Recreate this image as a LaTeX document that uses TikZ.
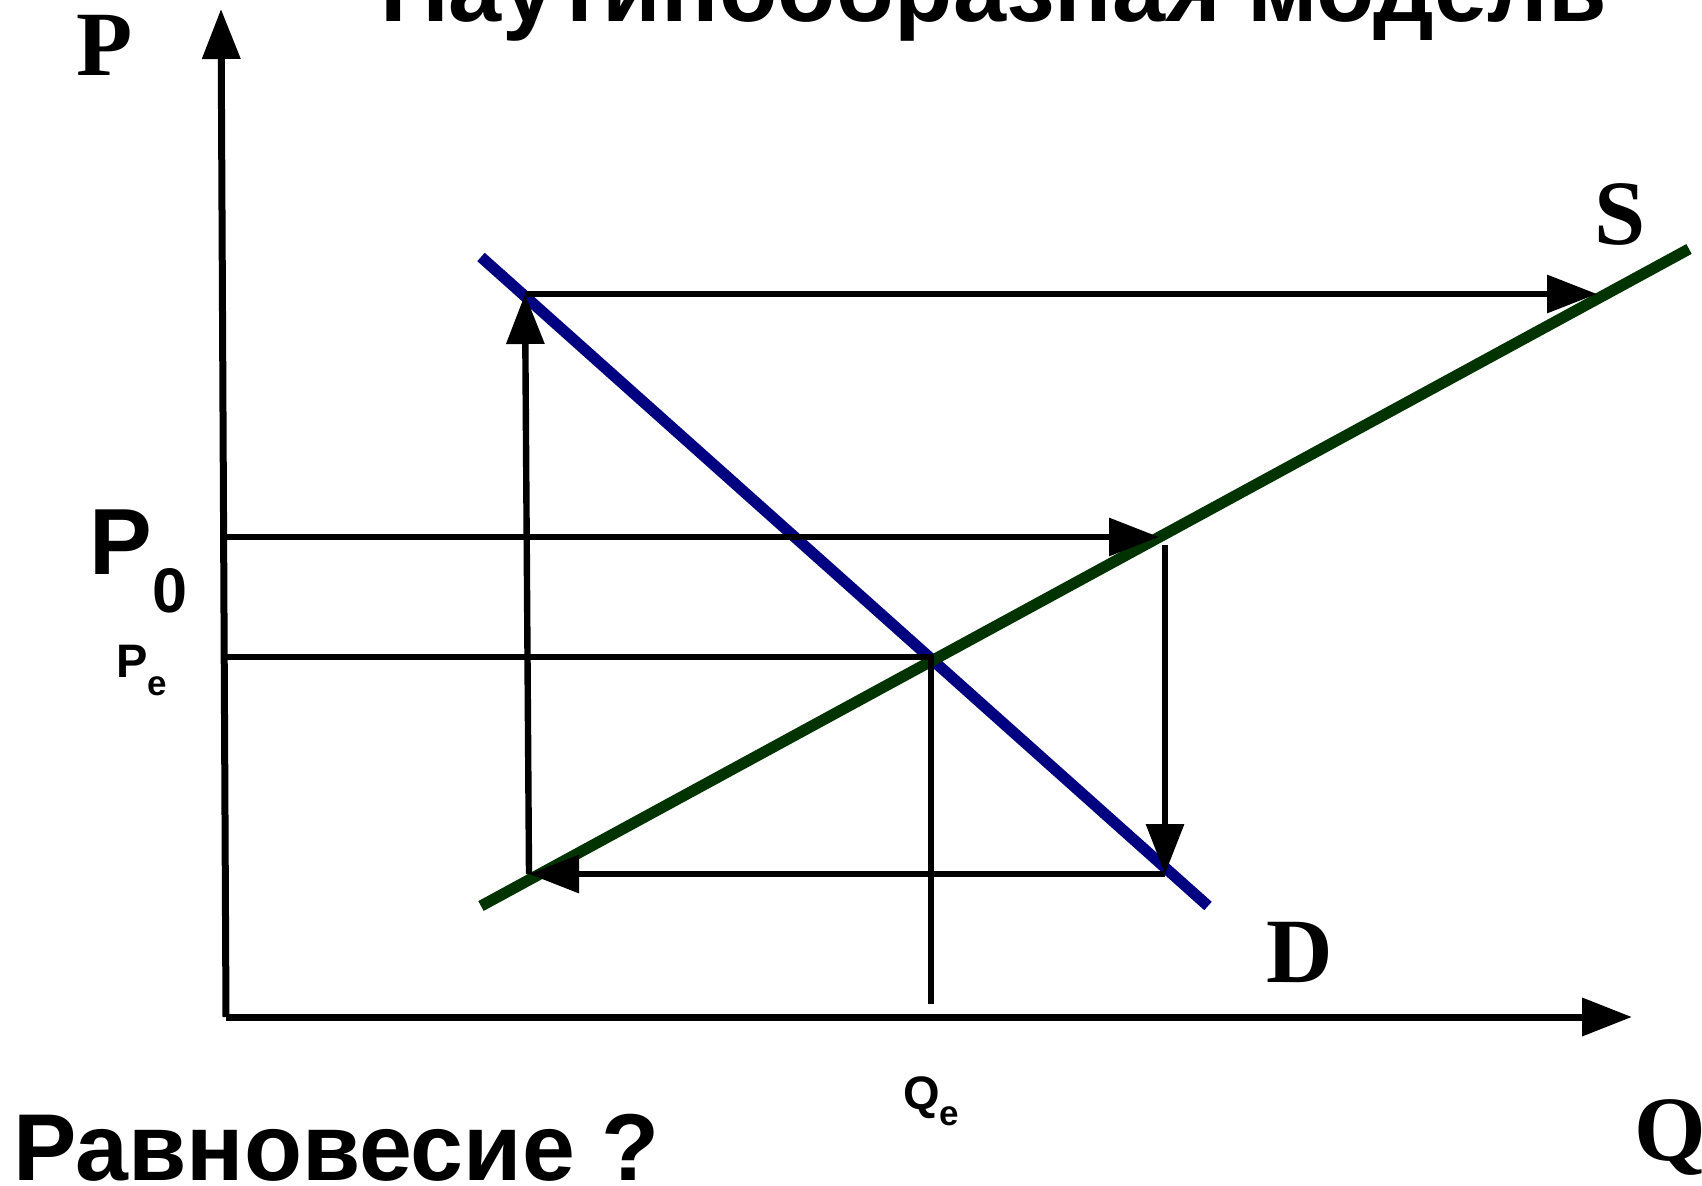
\documentclass[tikz,border=0pt]{standalone}
\usepackage{fontspec}
\setmainfont{Liberation Serif}
\setsansfont{Liberation Sans}
\usepackage{tikz}
\usetikzlibrary{arrows.meta}
\definecolor{dblue}{HTML}{000080}
\definecolor{sgreen}{HTML}{003300}
\tikzset{
  tip/.style={-{Triangle[length=25pt,width=18.5pt]}},
  axisline/.style={line width=3.5pt, tip},
  webline/.style={line width=3.2pt},
  curve/.style={line width=5.6pt},
  bigserif/.style={inner sep=0pt, anchor=base west, font=\bfseries\fontsize{46}{46}\selectfont},
  bigsans/.style={inner sep=0pt, anchor=base west, font=\sffamily\bfseries\fontsize{#1}{#1}\selectfont}
}

\begin{document}
\begin{tikzpicture}[x=0.5pt, y=-0.5pt]
 \useasboundingbox (0,0) rectangle (1702,1186);
 \node[bigsans=47.7] (title) at (380,22) {Паутинообразная модель};
 % axes
 \coordinate (O) at (226,1017);
 \coordinate (ytip) at (221,9);
 \coordinate (xtip) at (1632,1017);
 \draw[axisline] (O) -- (ytip);
 \draw[axisline] (O) -- (xtip);
 % curves
 \coordinate (d1) at (481,257);
 \coordinate (d2) at (1208,906);
 \coordinate (s1) at (481,906);
 \coordinate (s2) at (1689,249);
 \draw[curve, dblue] (d1) -- (d2);
 \draw[curve, sgreen] (s1) -- (s2);
 % cobweb
 \coordinate (a) at (529,874);
 \coordinate (b) at (525,294);
 \coordinate (c) at (1597,294);
 \coordinate (p0l) at (225,537);
 \coordinate (p0r) at (1159,537);
 \coordinate (p0d) at (1165,545);
 \coordinate (dr) at (1165,874);
 \coordinate (pel) at (225,657);
 \coordinate (E) at (931,657);
 \coordinate (qe) at (931,1004);
 \draw[webline, tip] (p0l) -- (p0r);
 \draw[webline, tip] (p0d) -- (dr);
 \draw[webline, tip] (dr) -- (a);
 \draw[webline, tip] (a) -- (b);
 \draw[webline, tip] (b) -- (c);
 \draw[webline] (pel) -- (E) -- (qe);
 % labels
 \node[bigserif] (P) at (76,76) {P};
 \node[bigserif] (Q) at (1634,1160) {Q};
 \node[bigserif] (S) at (1594,245) {S};
 \node[bigserif] (D) at (1266,982) {D};
 \node[bigsans=47] (P0) at (89,575) {P\raisebox{-19pt}{\fontsize{31.5}{31.5}\selectfont 0}};
 \node[bigsans=23.5] (Pe) at (116,678) {P\raisebox{-9pt}{\fontsize{17.5}{17.5}\selectfont e}};
 \node[bigsans=23.5] (Qe) at (903,1109) {Q\raisebox{-8pt}{\fontsize{17.5}{17.5}\selectfont e}};
 \node[bigsans=47.5] (eq) at (13,1180) {Равновесие ?};
\end{tikzpicture}
\end{document}
